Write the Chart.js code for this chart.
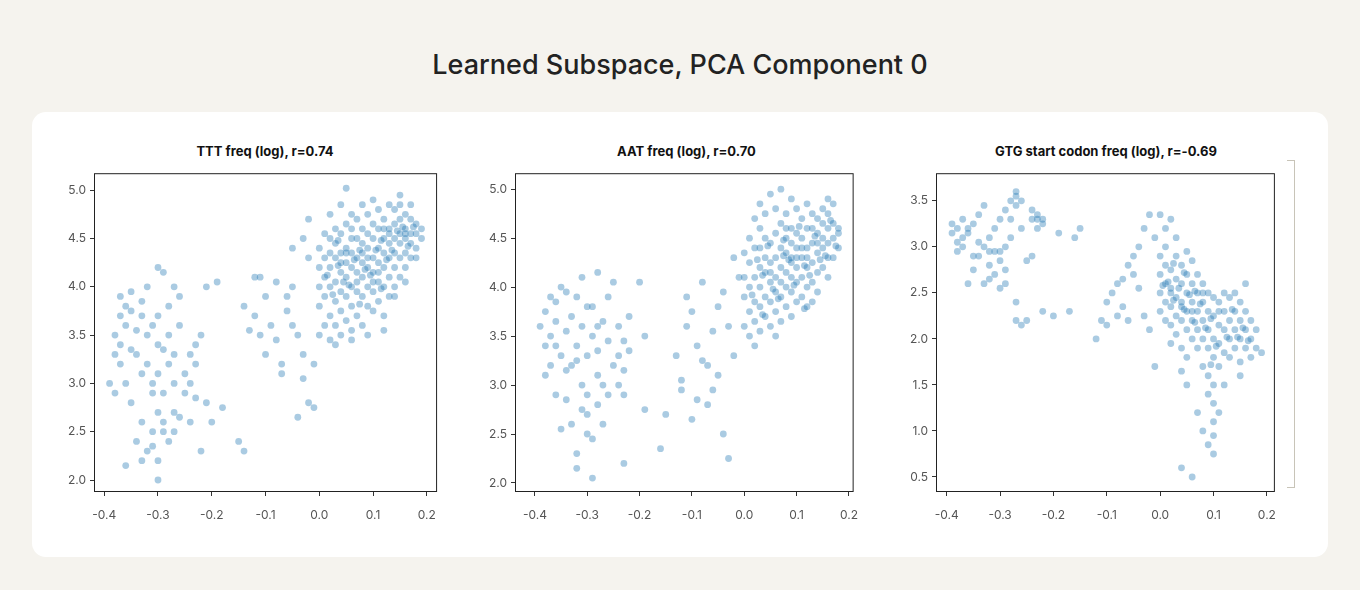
<!DOCTYPE html>
<html><head><meta charset="utf-8">
<script src="https://cdn.jsdelivr.net/npm/chart.js@4/dist/chart.umd.min.js"></script>
<style>
body{margin:0;width:1360px;height:590px;background:#f5f3ee;font-family:Inter,"Noto Sans",sans-serif;position:relative;overflow:hidden}
#title{position:absolute;top:48px;left:0;width:1360px;text-align:center;font-size:27px;font-weight:500;color:#222}
#card{position:absolute;left:32px;top:112px;width:1296px;height:445px;background:#fff;border-radius:14px}
.sub{position:absolute;top:143px;font-size:13px;font-weight:700;color:#111;text-align:center}
.cv{position:absolute;top:162px;height:370px}
#br{position:absolute;left:1287px;top:160px;width:7px;height:326px;border:1px solid #c8c4b8;border-left:none}
</style></head><body>
<div id="title">Learned Subspace, PCA Component 0</div>
<div id="card"></div>
<div id="br"></div>
<div class="sub" style="left:94px;width:342px">TTT freq (log), r=0.74</div>
<div class="sub" style="left:515px;width:343px">AAT freq (log), r=0.70</div>
<div class="sub" style="left:936px;width:340px">GTG start codon freq (log), r=-0.69</div>
<div class="cv" style="left:50px;width:398px"><canvas id="c1"></canvas></div>
<div class="cv" style="left:471px;width:399px"><canvas id="c2"></canvas></div>
<div class="cv" style="left:892px;width:396px"><canvas id="c3"></canvas></div>
<script>
const xTicks=[-0.4,-0.3,-0.2,-0.1,0.0,0.1,0.2];
const yTicks12=[2.0,2.5,3.0,3.5,4.0,4.5,5.0];
const yTicks3=[0.5,1.0,1.5,2.0,2.5,3.0,3.5];
const ttt=[-0.38,3.3,-0.38,3.5,-0.37,3.7,-0.37,3.9,-0.36,3.6,-0.36,3.8,-0.37,3.4,-0.36,3.0,-0.35,3.95,-0.35,3.75,-0.34,3.3,-0.34,3.55,-0.36,2.15,-0.35,2.8,-0.33,3.1,-0.33,3.85,-0.32,3.5,-0.32,4.0,-0.32,3.2,-0.31,2.9,-0.31,3.6,-0.30,3.7,-0.30,4.2,-0.29,4.15,-0.30,3.4,-0.30,3.1,-0.30,2.7,-0.31,2.5,-0.31,2.35,-0.30,2.2,-0.30,2.0,-0.29,2.6,-0.29,2.9,-0.28,3.2,-0.28,3.5,-0.28,3.8,-0.28,2.4,-0.29,2.5,-0.27,2.7,-0.27,3.0,-0.27,3.3,-0.26,3.6,-0.26,3.9,-0.25,3.1,-0.24,3.3,-0.24,3.0,-0.23,3.2,-0.23,2.85,-0.23,3.4,-0.24,2.6,-0.22,2.3,-0.22,3.5,-0.26,2.65,-0.33,2.6,-0.34,2.4,-0.37,3.2,-0.39,3.0,-0.38,2.9,-0.32,2.3,-0.33,2.2,-0.27,2.5,-0.25,2.9,-0.27,4.0,-0.33,3.7,-0.35,3.35,-0.29,3.35,-0.31,3.0,-0.21,4.0,-0.19,4.05,-0.2,2.6,-0.21,2.8,-0.18,2.75,
-0.15,2.4,-0.14,2.3,-0.14,3.8,-0.13,3.55,-0.12,3.7,-0.12,4.1,-0.11,3.5,-0.1,3.3,-0.1,3.9,-0.09,3.6,-0.08,3.45,-0.07,3.2,-0.07,3.1,-0.06,3.75,-0.06,3.9,-0.05,3.6,-0.05,4.0,-0.04,3.5,-0.04,2.65,-0.03,3.3,-0.03,3.05,-0.02,2.8,-0.02,4.3,-0.03,4.5,-0.02,4.7,-0.05,4.4,-0.01,2.75,-0.01,3.2,-0.08,4.05,-0.11,4.1,
0.0,3.5,0.0,3.8,0.0,4.0,0.0,4.2,0.0,4.4,0.01,3.6,0.01,3.9,0.01,4.1,0.01,4.3,0.01,4.55,0.02,3.45,0.02,3.7,0.02,4.0,0.02,4.2,0.02,4.5,0.02,4.75,0.03,3.6,0.03,3.85,0.03,4.05,0.03,4.3,0.03,4.45,0.03,4.6,0.04,3.5,0.04,3.75,0.04,3.95,0.04,4.15,0.04,4.35,0.04,4.55,0.04,4.85,0.05,3.65,0.05,3.9,0.05,4.1,0.05,4.25,0.05,4.4,0.05,4.65,0.05,5.02,0.06,3.55,0.06,3.8,0.06,4.0,0.06,4.2,0.06,4.35,0.06,4.5,0.06,4.75,0.07,3.7,0.07,3.95,0.07,4.15,0.07,4.3,0.07,4.5,0.07,4.7,0.08,3.6,0.08,3.9,0.08,4.1,0.08,4.25,0.08,4.45,0.08,4.6,0.08,4.85,0.09,3.8,0.09,4.0,0.09,4.2,0.09,4.4,0.09,4.55,0.09,4.75,0.1,3.75,0.1,3.95,0.1,4.15,0.1,4.3,0.1,4.5,0.1,4.65,0.1,4.9,0.11,3.85,0.11,4.05,0.11,4.25,0.11,4.4,0.11,4.6,0.11,4.8,0.12,3.7,0.12,4.0,0.12,4.2,0.12,4.35,0.12,4.5,0.12,4.7,0.13,3.9,0.13,4.1,0.13,4.3,0.13,4.45,0.13,4.6,0.13,4.85,0.14,4.0,0.14,4.2,0.14,4.35,0.14,4.5,0.14,4.65,0.14,4.8,0.15,4.1,0.15,4.3,0.15,4.45,0.15,4.55,0.15,4.7,0.15,4.95,0.16,4.2,0.16,4.35,0.16,4.5,0.16,4.6,0.16,4.75,0.17,4.3,0.17,4.45,0.17,4.55,0.17,4.7,0.17,4.85,0.18,4.4,0.18,4.55,0.18,4.65,0.19,4.5,0.19,4.6,0.14,3.9,0.12,3.55,0.09,3.5,0.06,3.45,0.03,3.4,0.16,4.05,0.18,4.3,0.15,4.85,0.1,4.05,0.07,4.05,0.04,4.25,0.05,4.35,0.09,4.3,0.11,4.15,0.13,4.55,0.16,4.55,0.12,4.6,0.08,4.35,0.06,4.6,0.02,4.35,
0.015,4.12,0.035,4.22,0.055,4.02,0.075,4.38,0.095,4.12,0.115,4.48,0.135,4.38,0.155,4.62,0.165,4.42,0.125,4.28,0.085,4.18,0.045,4.05,0.025,3.92,0.065,4.28,0.105,4.38,0.145,4.58,0.175,4.62,0.035,4.48,0.075,3.82,0.115,3.98];
const aat=[-0.39,3.6,-0.38,3.4,-0.38,3.75,-0.37,3.9,-0.37,3.5,-0.36,3.65,-0.36,3.85,-0.35,3.3,-0.35,4.0,-0.34,3.55,-0.34,3.15,-0.34,2.85,-0.33,3.7,-0.33,3.2,-0.33,2.6,-0.32,3.9,-0.32,3.4,-0.32,2.3,-0.32,2.15,-0.31,3.0,-0.31,3.6,-0.31,4.1,-0.30,3.3,-0.30,2.9,-0.30,2.5,-0.30,2.7,-0.29,3.8,-0.29,3.5,-0.29,2.45,-0.29,2.05,-0.28,3.1,-0.28,3.35,-0.28,2.8,-0.28,4.15,-0.27,3.65,-0.27,3.0,-0.27,2.6,-0.26,3.9,-0.26,3.45,-0.25,3.2,-0.25,4.05,-0.24,3.6,-0.24,3.3,-0.24,3.0,-0.23,3.45,-0.23,3.15,-0.23,2.9,-0.22,3.35,-0.22,3.7,-0.36,2.9,-0.37,3.2,-0.38,3.1,-0.35,2.55,-0.31,2.75,-0.3,3.8,-0.26,2.9,-0.34,3.95,-0.36,3.4,-0.32,3.25,-0.28,3.6,-0.23,2.2,-0.19,2.75,-0.2,4.05,-0.19,3.5,
-0.16,2.35,-0.15,2.7,-0.13,3.3,-0.12,3.05,-0.12,2.95,-0.11,3.9,-0.11,3.6,-0.1,3.75,-0.09,3.4,-0.09,2.85,-0.08,3.25,-0.07,3.2,-0.07,2.8,-0.06,3.55,-0.06,2.95,-0.05,3.1,-0.05,3.8,-0.04,2.5,-0.04,3.95,-0.03,2.25,-0.03,3.6,-0.02,3.3,-0.02,4.3,-0.01,4.1,-0.08,4.05,-0.1,2.65,
0.0,3.6,0.0,3.9,0.0,4.1,0.0,4.35,0.01,3.5,0.01,3.75,0.01,4.0,0.01,4.25,0.01,4.5,0.02,3.65,0.02,3.85,0.02,4.1,0.02,4.4,0.02,4.7,0.03,3.55,0.03,3.8,0.03,4.0,0.03,4.2,0.03,4.6,0.03,4.85,0.04,3.7,0.04,3.9,0.04,4.15,0.04,4.3,0.04,4.5,0.04,4.75,0.05,3.6,0.05,3.85,0.05,4.05,0.05,4.25,0.05,4.45,0.05,4.95,0.06,3.75,0.06,3.95,0.06,4.1,0.06,4.3,0.06,4.55,0.06,4.8,0.07,3.65,0.07,3.9,0.07,4.05,0.07,4.2,0.07,4.4,0.07,4.65,0.07,5.0,0.08,3.8,0.08,4.0,0.08,4.15,0.08,4.35,0.08,4.5,0.08,4.75,0.09,3.7,0.09,3.95,0.09,4.1,0.09,4.3,0.09,4.45,0.09,4.6,0.09,4.9,0.1,3.85,0.1,4.05,0.1,4.2,0.1,4.4,0.1,4.55,0.1,4.8,0.11,3.9,0.11,4.1,0.11,4.3,0.11,4.5,0.11,4.7,0.12,3.8,0.12,4.0,0.12,4.2,0.12,4.4,0.12,4.6,0.12,4.85,0.13,4.05,0.13,4.25,0.13,4.45,0.13,4.6,0.13,4.75,0.14,3.95,0.14,4.15,0.14,4.35,0.14,4.55,0.14,4.7,0.15,4.2,0.15,4.4,0.15,4.5,0.15,4.65,0.15,4.8,0.16,4.1,0.16,4.3,0.16,4.45,0.16,4.6,0.16,4.75,0.17,4.3,0.17,4.5,0.17,4.65,0.17,4.85,0.18,4.4,0.18,4.6,0.18,4.55,0.13,3.85,0.06,3.5,0.09,4.25,0.05,4.15,0.11,4.4,0.03,4.4,0.08,4.6,0.14,4.45,0.16,4.9,0.02,3.4,0.12,4.3,0.1,4.3,
0.015,3.92,0.035,4.12,0.055,3.98,0.075,4.32,0.095,4.02,0.115,4.22,0.135,4.52,0.155,4.32,0.165,4.68,0.125,4.12,0.085,4.28,0.045,4.42,0.025,4.28,0.065,3.88,0.105,4.62,0.145,4.28,0.175,4.42,0.035,3.72,0.075,4.48,0.115,3.78];
const gtg=[-0.39,3.25,-0.39,3.15,-0.38,3.05,-0.38,3.2,-0.37,3.1,-0.37,3.3,-0.37,3.0,-0.36,3.2,-0.36,3.15,-0.38,2.95,-0.35,3.25,-0.35,2.75,-0.34,3.35,-0.34,2.9,-0.33,3.0,-0.33,2.6,-0.33,3.45,-0.32,2.8,-0.32,3.1,-0.32,2.65,-0.31,2.95,-0.31,3.2,-0.31,2.7,-0.30,2.85,-0.30,3.3,-0.30,2.55,-0.29,3.0,-0.29,2.75,-0.29,3.4,-0.28,3.5,-0.28,3.3,-0.28,3.1,-0.27,3.55,-0.27,3.6,-0.27,3.45,-0.26,3.5,-0.26,3.2,-0.27,2.4,-0.27,2.2,-0.26,2.15,-0.25,2.85,-0.24,2.9,-0.23,3.3,-0.23,3.35,-0.22,3.25,-0.23,3.2,-0.22,3.3,-0.24,3.4,-0.24,3.3,-0.35,2.9,-0.36,2.6,-0.32,2.95,-0.3,2.95,-0.29,2.6,-0.34,3.05,-0.22,2.3,-0.2,2.25,-0.19,3.15,-0.16,3.1,-0.15,3.2,-0.17,2.3,-0.25,2.2,
-0.12,2.0,-0.11,2.2,-0.1,2.4,-0.1,2.15,-0.09,2.5,-0.08,2.6,-0.07,2.35,-0.07,2.65,-0.06,2.8,-0.05,2.7,-0.05,2.9,-0.04,3.0,-0.04,2.55,-0.03,3.2,-0.03,2.25,-0.02,3.35,-0.02,2.1,-0.01,3.1,-0.01,1.7,-0.06,2.2,-0.08,2.25,
0.0,2.9,0.0,2.7,0.0,2.5,0.0,2.3,0.01,2.8,0.01,2.6,0.01,2.4,0.01,2.2,0.01,3.0,0.02,2.75,0.02,2.55,0.02,2.35,0.02,2.15,0.02,1.95,0.03,2.9,0.03,2.65,0.03,2.45,0.03,2.25,0.03,2.05,0.04,2.8,0.04,2.6,0.04,2.4,0.04,2.2,0.04,1.9,0.05,2.7,0.05,2.5,0.05,2.3,0.05,2.1,0.05,1.8,0.06,2.85,0.06,2.6,0.06,2.4,0.06,2.2,0.06,2.0,0.07,2.7,0.07,2.5,0.07,2.3,0.07,2.1,0.07,1.9,0.08,2.6,0.08,2.4,0.08,2.2,0.08,2.0,0.08,1.7,0.09,2.5,0.09,2.3,0.09,2.1,0.09,1.9,0.09,1.6,0.09,1.4,0.1,2.45,0.1,2.25,0.1,2.0,0.1,1.8,0.1,1.5,0.1,1.3,0.1,1.1,0.1,0.95,0.11,2.4,0.11,2.15,0.11,1.95,0.11,1.7,0.11,1.2,0.12,2.5,0.12,2.3,0.12,2.1,0.12,1.85,0.13,2.45,0.13,2.2,0.13,2.0,0.13,1.8,0.14,2.5,0.14,2.3,0.14,2.1,0.14,1.9,0.15,2.4,0.15,2.2,0.15,2.0,0.15,1.75,0.16,2.3,0.16,2.1,0.16,1.9,0.16,2.6,0.17,2.2,0.17,2.0,0.17,1.8,0.18,2.1,0.18,1.9,0.19,1.85,0.1,0.75,0.09,0.85,0.06,0.5,0.04,0.6,0.08,1.0,0.07,1.2,0.05,1.5,0.04,1.65,0.12,1.5,0.15,1.6,0.02,3.3,0.01,3.2,0.0,3.35,0.03,3.1,0.05,2.95,0.02,2.5,0.06,2.3,0.08,2.5,0.04,2.35,0.11,2.3,
0.015,2.62,0.025,2.42,0.035,2.55,0.045,2.32,0.055,2.48,0.065,2.18,0.075,2.38,0.085,2.12,0.095,2.22,0.105,1.92,0.125,2.02,0.135,2.32,0.145,2.02,0.155,2.12,0.165,1.98,0.045,2.72,0.025,2.82,0.005,2.58,0.065,2.52,0.095,1.72];

function pts(a){const r=[];for(let i=0;i<a.length;i+=2)r.push({x:a[i],y:a[i+1]});return r;}
const frame={id:'frame',afterDraw(c){const a=c.chartArea,ctx=c.ctx;ctx.save();ctx.strokeStyle='#222';ctx.lineWidth=1;ctx.strokeRect(a.left+0.5,a.top+0.5,a.right-a.left-1,a.bottom-a.top-1);ctx.restore();}};
function make(id,data,xr,yr,yt){
  const tickFont={family:'Inter, "Noto Sans", sans-serif',size:12};
  new Chart(document.getElementById(id),{type:'scatter',
    data:{datasets:[{data:pts(data),backgroundColor:'rgba(31,119,180,0.38)',borderWidth:0,pointRadius:3.4,pointHoverRadius:3.4}]},
    options:{responsive:true,maintainAspectRatio:false,animation:false,
      layout:{padding:{top:1,right:4,left:0,bottom:0}},
      plugins:{legend:{display:false},tooltip:{enabled:false}},
      scales:{
        x:{type:'linear',min:xr[0],max:xr[1],afterBuildTicks(s){s.ticks=xTicks.map(v=>({value:v}));},
          afterFit(s){s.height=40;},
          grid:{drawOnChartArea:false,drawTicks:true,tickLength:4,color:'#333'},border:{display:false},
          ticks:{font:tickFont,color:'#555',padding:12,maxRotation:0,callback:v=>v.toFixed(1)}},
        y:{type:'linear',min:yr[0],max:yr[1],afterBuildTicks(s){s.ticks=yt.map(v=>({value:v}));},
          afterFit(s){s.width=44;},
          grid:{drawOnChartArea:false,drawTicks:true,tickLength:4,color:'#333'},border:{display:false},
          ticks:{font:tickFont,color:'#555',padding:4,callback:v=>v.toFixed(1)}}
      }},plugins:[frame]});
}
make('c1',ttt,[-0.419,0.219],[1.876,5.176],yTicks12);
make('c2',aat,[-0.438,0.209],[1.908,5.163],yTicks12);
make('c3',gtg,[-0.42,0.215],[0.337,3.80],yTicks3);
</script></body></html>
